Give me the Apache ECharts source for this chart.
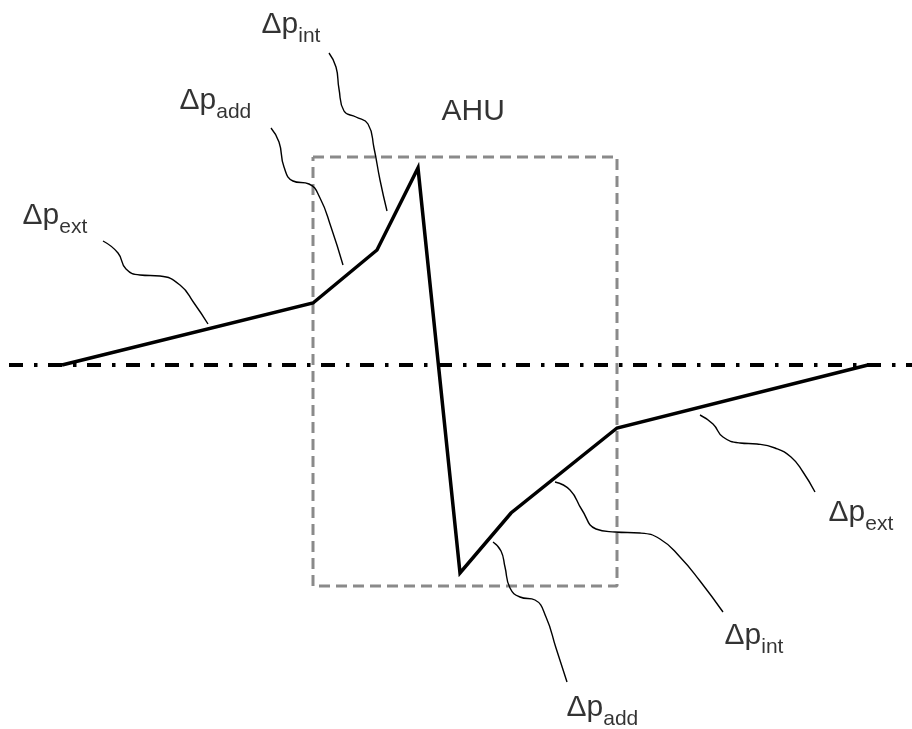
<!DOCTYPE html>
<html>
<head>
<meta charset="utf-8">
<script src="https://cdn.jsdelivr.net/npm/echarts@6/dist/echarts.min.js"></script>
<style>
html, body { margin: 0; padding: 0; background: #fff; }
#chart { width: 912px; height: 729px; }
</style>
</head>
<body>
<div id="chart"></div>
<script>
// pressure profile through the AHU (diagram units = picture pixels)
var profile = [[62, 365], [313, 303], [377, 250], [418, 168], [460, 573], [511, 513], [617, 428], [868, 365]];
var zeroLine = [[9, 365], [912, 365]];
var ahuBox = [[313, 157], [617, 157], [617, 586], [313, 586], [313, 157]];

// leader curves from labels to segments
var leaderExtLeft = [[103, 241], [118, 253], [126, 269], [140, 275], [160, 276], [180, 285], [194, 303], [208, 324]];
var leaderAddTop = [[271, 128], [279, 142], [284, 167], [293, 181], [309, 184], [320, 198], [331, 227], [343, 265]];
var leaderIntTop = [[329, 53], [336, 67], [339, 89], [344, 111], [356, 117], [368, 124], [374, 148], [380, 180], [387, 211]];
var leaderAddBot = [[493, 542], [501, 551], [505, 567], [510, 588], [520, 597], [535, 600], [546, 617], [556, 648], [567, 682]];
var leaderIntBot = [[555, 482], [570, 490], [582, 510], [596, 529], [615, 532], [640, 533], [660, 539], [680, 557], [700, 581], [723, 612]];
var leaderExtRight = [[700, 415], [713, 424], [723, 437], [740, 443], [757, 444], [775, 448], [791, 457], [803, 472], [815, 492]];

// labels: [x, y, main, subscript]
var labelTexts = [
    [23, 201, 'Δp', 'ext'],
    [180, 86, 'Δp', 'add'],
    [262, 10, 'Δp', 'int'],
    [442, 97, 'AHU', ''],
    [567, 693, 'Δp', 'add'],
    [725, 621, 'Δp', 'int'],
    [829, 498, 'Δp', 'ext']
];

function leaderSeries(name, pts) {
    return {
        name: name,
        type: 'line',
        data: pts,
        smooth: 0.5,
        showSymbol: false,
        symbol: 'none',
        lineStyle: { color: '#000', width: 1.4 },
        z: 3
    };
}

var myChart = echarts.init(document.getElementById('chart'));
var option = {
    animation: false,
    backgroundColor: '#fff',
    grid: { left: 0, right: 0, top: 0, bottom: 0 },
    xAxis: { type: 'value', min: 0, max: 912, show: false },
    yAxis: { type: 'value', min: 0, max: 729, inverse: true, show: false },
    series: [
        {
            name: 'zero',
            type: 'line',
            data: zeroLine,
            symbol: 'none',
            lineStyle: { color: '#000', width: 4, type: [14, 11, 3.5, 10.5] },
            z: 2
        },
        {
            name: 'AHU',
            type: 'line',
            data: ahuBox,
            symbol: 'none',
            lineStyle: { color: '#8a8a8a', width: 3, type: [11, 6] },
            z: 1
        },
        {
            name: 'profile',
            type: 'line',
            data: profile,
            symbol: 'none',
            lineStyle: { color: '#000', width: 3.5, join: 'miter' },
            z: 4
        },
        leaderSeries('ext1', leaderExtLeft),
        leaderSeries('add1', leaderAddTop),
        leaderSeries('int1', leaderIntTop),
        leaderSeries('add2', leaderAddBot),
        leaderSeries('int2', leaderIntBot),
        leaderSeries('ext2', leaderExtRight),
        {
            name: 'labels',
            type: 'scatter',
            symbolSize: 1,
            itemStyle: { color: 'transparent' },
            data: labelTexts.map(function (d) {
                return { value: [d[0], d[1]], main: d[2], sub: d[3] };
            }),
            label: {
                show: true,
                position: [0, 0],
                align: 'left',
                verticalAlign: 'top',
                color: '#000',
                formatter: function (p) {
                    var s = '{m|' + p.data.main + '}';
                    if (p.data.sub) s += '{s|' + p.data.sub + '}';
                    return s;
                },
                rich: {
                    m: { fontSize: 30, color: '#000', fontFamily: 'Liberation Sans', verticalAlign: 'top' },
                    s: { fontSize: 21, color: '#000', fontFamily: 'Liberation Sans', verticalAlign: 'top', padding: [16, 0, 0, 0] }
                }
            },
            z: 5
        }
    ]
};
myChart.setOption(option);
</script>
</body>
</html>
